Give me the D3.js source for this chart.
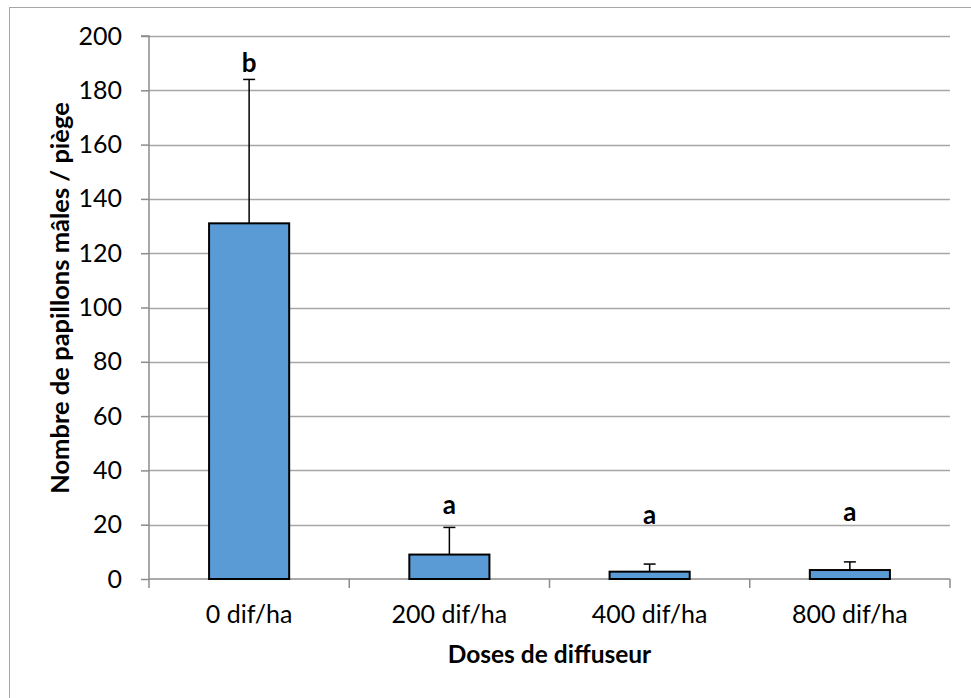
<!DOCTYPE html>
<html>
<head>
<meta charset="utf-8">
<script src="https://cdn.jsdelivr.net/npm/d3@7"></script>
<style>
  html, body { margin: 0; padding: 0; background: #ffffff; }
  svg { display: block; font-family: Lato, "Open Sans", sans-serif; }
</style>
</head>
<body>
<svg id="chart" width="971" height="698"></svg>
<script>
// ---- data ----
const categories = ["0 dif/ha", "200 dif/ha", "400 dif/ha", "800 dif/ha"];
const means = [131, 9, 2.7, 3.3];
const errorTops = [184, 19, 5.5, 6.3];
const letters = ["b", "a", "a", "a"];
const letterY = [186.8, 24.0, 20.4, 21.5];   // baseline of letter, in data units
const yTicks = [0, 20, 40, 60, 80, 100, 120, 140, 160, 180, 200];
const xTitle = "Doses de diffuseur";
const yTitle = "Nombre de papillons mâles / piège";

// ---- layout ----
const svg = d3.select("#chart");
const plot = { left: 149, right: 950, top: 36, bottom: 579 };

// outer chart border (extends beyond the picture on the right and bottom)
svg.append("rect")
  .attr("x", 9.5).attr("y", 7.5)
  .attr("width", 1000).attr("height", 1000)
  .attr("fill", "none").attr("stroke", "#a6a6a6").attr("stroke-width", 1);

const x = d3.scaleBand().domain(categories).range([plot.left, plot.right]).paddingInner(0).paddingOuter(0);
const y = d3.scaleLinear().domain([0, 200]).range([plot.bottom, plot.top]);

const gridColor = "#a6a6a6";
const axisColor = "#8c8c8c";

// gridlines
svg.append("g").selectAll("line").data(yTicks.filter(d => d > 0)).join("line")
  .attr("x1", plot.left).attr("x2", plot.right)
  .attr("y1", d => Math.round(y(d)) + 0.5).attr("y2", d => Math.round(y(d)) + 0.5)
  .attr("stroke", gridColor).attr("stroke-width", 1.5);

// y axis
const yAxis = d3.axisLeft(y).tickValues(yTicks).tickSize(8).tickPadding(19).tickFormat(d3.format("d"));
const gy = svg.append("g").attr("transform", `translate(${plot.left},0)`).call(yAxis);
gy.select(".domain").attr("stroke", axisColor).attr("stroke-width", 1.5).attr("d", `M-8,${plot.top}H0V${plot.bottom}`);
gy.selectAll(".tick line").attr("stroke", axisColor).attr("stroke-width", 1.5);
gy.selectAll(".tick text").attr("font-size", 25).attr("fill", "#000").attr("font-family", "Lato, sans-serif");

// x axis
const xAxis = d3.axisBottom(x).tickSize(0).tickPadding(26);
const gx = svg.append("g").attr("transform", `translate(0,${plot.bottom})`).call(xAxis);
gx.select(".domain").attr("stroke", axisColor).attr("stroke-width", 1.5).attr("d", `M${plot.left},0H${plot.right}`);
gx.selectAll(".tick text").attr("font-size", 25).attr("fill", "#000").attr("font-family", "Lato, sans-serif");
// category boundary ticks
const bounds = categories.map(c => x(c)).concat([x(categories[categories.length - 1]) + x.bandwidth()]);
gx.append("g").selectAll("line").data(bounds).join("line")
  .attr("x1", d => d).attr("x2", d => d).attr("y1", 0).attr("y2", 9)
  .attr("stroke", axisColor).attr("stroke-width", 1.5);

// bars
const barW = x.bandwidth() * 0.4;
svg.append("g").selectAll("rect").data(categories).join("rect")
  .attr("x", (c) => x(c) + (x.bandwidth() - barW) / 2)
  .attr("y", (c, i) => y(means[i]))
  .attr("width", barW)
  .attr("height", (c, i) => y(0) - y(means[i]))
  .attr("fill", "#5b9bd5").attr("stroke", "#000").attr("stroke-width", 2);

// error bars
const eg = svg.append("g");
categories.forEach((c, i) => {
  const cx = x(c) + x.bandwidth() / 2;
  eg.append("line").attr("x1", cx).attr("x2", cx).attr("y1", y(means[i])).attr("y2", y(errorTops[i]))
    .attr("stroke", "#000").attr("stroke-width", 1.5);
  eg.append("line").attr("x1", cx - 6).attr("x2", cx + 6).attr("y1", y(errorTops[i])).attr("y2", y(errorTops[i]))
    .attr("stroke", "#000").attr("stroke-width", 1.5);
});

// significance letters
svg.append("g").selectAll("text").data(categories).join("text")
  .attr("x", c => x(c) + x.bandwidth() / 2)
  .attr("y", (c, i) => y(letterY[i]))
  .attr("text-anchor", "middle")
  .attr("font-size", 26).attr("font-weight", "bold")
  .text((c, i) => letters[i]);

// axis titles
svg.append("text")
  .attr("x", (plot.left + plot.right) / 2).attr("y", 663)
  .attr("text-anchor", "middle").attr("font-size", 24.5).attr("font-weight", "bold")
  .text(xTitle);

svg.append("text")
  .attr("transform", `translate(69,298) rotate(-90)`)
  .attr("text-anchor", "middle").attr("font-size", 25.5).attr("font-weight", "bold")
  .text(yTitle);
</script>
</body>
</html>
